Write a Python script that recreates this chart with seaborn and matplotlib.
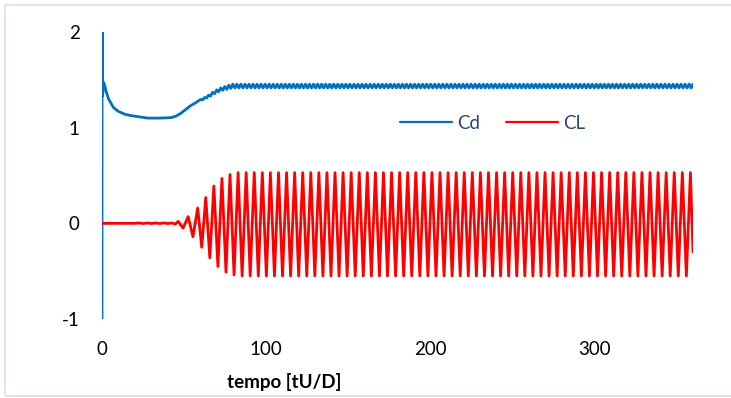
import numpy as np
import pandas as pd
import matplotlib
matplotlib.use("Agg")
import matplotlib.pyplot as plt
import seaborn as sns
from matplotlib.lines import Line2D
from matplotlib.patches import Rectangle

# ---------------- data ----------------
series_names = ["Cd", "CL"]
x_ticks = [0, 100, 200, 300]
y_ticks = [-1, 0, 1, 2]
x_label = "tempo [tU/D]"
t_end = 360.0

# Cd: start-up transient (time, value)
cd_start_t = [0, 0.05, 0.3, 1.2, 2.5, 4, 7, 10, 14, 18, 22, 28, 35, 42, 45, 48, 51, 54, 57]
cd_start_v = [-1.0, 2.0, 1.33, 1.47, 1.38, 1.30, 1.21, 1.17, 1.14, 1.125, 1.115, 1.10, 1.10,
              1.105, 1.12, 1.15, 1.19, 1.23, 1.26]
# Cd: successive extremes of the shedding ripple (one every quarter CL period)
cd_ripple_t0 = 60.0
cd_ripple_step = 1.23
cd_ripple_rise = [1.295, 1.29, 1.315, 1.31, 1.34, 1.33, 1.37, 1.355,
                  1.395, 1.375, 1.415, 1.39, 1.43, 1.40, 1.445, 1.41]
cd_ripple_steady = [1.455, 1.415] * 114

# CL: start-up (time, value)
cl_start_t = [0, 20, 22.5, 25, 27.5, 30, 32.5, 35, 37.5, 40, 42.5, 44.5, 46.4, 49.4, 52.5, 55.4]
cl_start_v = [0, 0, 0.004, -0.002, 0.004, -0.002, 0.004, -0.002, 0.004, -0.002, 0.004,
              -0.008, 0.02, -0.05, 0.07, -0.14]
# CL: successive peaks / troughs of the vortex shedding
cl_grid_t0 = 58.3
cl_period = 4.92
cl_peaks = [0.16, 0.27, 0.39, 0.47, 0.51] + [0.53] * 57
cl_troughs = [-0.25, -0.36, -0.45, -0.51, -0.54] + [-0.55] * 56
cl_end_v = -0.30

# ---------------- assemble long-form table ----------------
cd_rip_v = cd_ripple_rise + cd_ripple_steady
cd_rip_t = list(cd_ripple_t0 + cd_ripple_step * np.arange(len(cd_rip_v)))
cd_t = cd_start_t + cd_rip_t + [t_end]
cd_v = cd_start_v + cd_rip_v + [cd_ripple_steady[0]]

cl_t_ext, cl_v_ext = [], []
for k, pk in enumerate(cl_peaks):
    cl_t_ext.append(cl_grid_t0 + cl_period * k)
    cl_v_ext.append(pk)
    if k < len(cl_troughs):
        cl_t_ext.append(cl_grid_t0 + cl_period * (k + 0.5))
        cl_v_ext.append(cl_troughs[k])
cl_t = cl_start_t + cl_t_ext + [t_end]
cl_v = cl_start_v + cl_v_ext + [cl_end_v]

df = pd.concat([
    pd.DataFrame({"t": cd_t, "v": cd_v, "s": series_names[0]}),
    pd.DataFrame({"t": cl_t, "v": cl_v, "s": series_names[1]}),
], ignore_index=True)

colors = {"Cd": "#0070C0", "CL": "#FF0000"}

# ---------------- drawing ----------------
sns.set_theme(style="white")
plt.rcParams["font.family"] = ["Lato", "DejaVu Sans"]

W, H = 731, 398
fig = plt.figure(figsize=(W / 100, H / 100), dpi=100)
ax = fig.add_axes([102 / W, 1 - 319 / H, (693 - 102) / W, (319 - 32) / H])

ax.axhline(0, color="#D0D0E4", lw=1.0, zorder=0)

sns.lineplot(data=df, x="t", y="v", hue="s", palette=colors, sort=False,
             estimator=None, units="s", legend=False, linewidth=2.0, ax=ax)
for ln in ax.get_lines()[1:]:
    ln.set_solid_joinstyle("round")
    ln.set_solid_capstyle("round")
    ln.set_linewidth(2.0)

ax.set_xlim(0, t_end)
ax.set_ylim(-1, 2)
ax.set_xticks(x_ticks)
ax.set_yticks(y_ticks)
ax.set_xticklabels([str(v) for v in x_ticks])
ax.set_yticklabels([str(v) for v in y_ticks])
ax.tick_params(axis="both", length=0, labelsize=13.5, colors="#000000")
ax.tick_params(axis="x", pad=16)
ax.tick_params(axis="y", pad=16)
for sp in ax.spines.values():
    sp.set_visible(False)
ax.set_xlabel("")
ax.set_ylabel("")
ax.patch.set_alpha(0)

fig.text(284 / W, 1 - 382 / H, x_label, ha="center", va="center",
         fontsize=13.5, fontweight="bold", color="#000000")

handles = [Line2D([], [], color=colors[n], lw=1.6) for n in series_names]
leg = ax.legend(handles, series_names, loc="center left",
                bbox_to_anchor=((400 - 102) / 591, (319 - 123.3) / 287),
                frameon=False, ncol=2, fontsize=13.5, handlelength=2.75,
                handletextpad=0.3, columnspacing=1.4, borderpad=0, borderaxespad=0)
for txt in leg.get_texts():
    txt.set_color("#264478")

fig.patches.append(Rectangle((5 / W, 1 - 396 / H), (W + 5) / W, (396 - 5) / H,
                             transform=fig.transFigure, fill=False,
                             edgecolor="#D6DFEC", lw=1.2))

fig.savefig("out.png", dpi=100)
